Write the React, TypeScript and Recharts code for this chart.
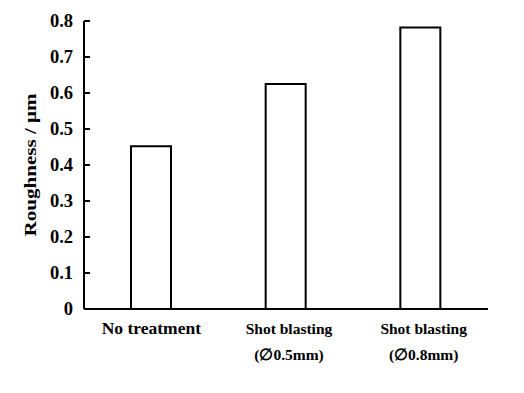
import { BarChart, Bar, XAxis, YAxis } from 'recharts';

const categories = ['No treatment', 'Shot blasting|(∅0.5mm)', 'Shot blasting|(∅0.8mm)'];
const roughness = [0.452, 0.625, 0.782];
const yTicks = [0, 0.1, 0.2, 0.3, 0.4, 0.5, 0.6, 0.7, 0.8];

const data = categories.map((c, i) => ({ name: c, value: roughness[i] }));

const FONT = 'Liberation Serif';
const textStyle = { fontFamily: FONT, fontWeight: 700 };

// inward tick marks, label to the left
const YTick = (props: any) => {
  const { x, y, payload } = props;
  const v = payload.value;
  return (
    <g>
      <line x1={x + 11} x2={x + 17} y1={y} y2={y} stroke="#000" strokeWidth={2} />
      <text x={x} y={y} dy={6} textAnchor="end" style={textStyle} fontSize={18.5} fill="#000">
        {v === 0 ? '0' : v.toFixed(1)}
      </text>
    </g>
  );
};

const XTick = (props: any) => {
  const { x, y, payload } = props;
  const lines = String(payload.value).split('|');
  const two = lines.length > 1;
  return (
    <g>
      {lines.map((l, i) => (
        <text
          key={i}
          x={x + (two ? 3 : 0)}
          y={y + 17 + i * 26}
          textAnchor="middle"
          style={textStyle}
          fontSize={two ? 15.5 : 17.5}
          fill="#000"
        >
          {l}
        </text>
      ))}
    </g>
  );
};

const YLabel = (props: any) => {
  const { viewBox } = props;
  const cx = viewBox.x + 30;
  const cy = viewBox.y + viewBox.height / 2;
  return (
    <text
      x={cx}
      y={cy}
      transform={`rotate(-90 ${cx} ${cy})`}
      textAnchor="middle"
      dominantBaseline="central"
      style={textStyle}
      fontSize={17}
      textLength={143}
      lengthAdjust="spacingAndGlyphs"
      fill="#000"
    >
      Roughness / μm
    </text>
  );
};

export default function App() {
  return (
    <div style={{ position: 'absolute', left: 0, top: 0, width: 524, height: 393, background: '#fff' }}>
      <BarChart width={524} height={393} data={data} margin={{ top: 21, right: 36, bottom: 0, left: 0 }}>
        <XAxis
          dataKey="name"
          axisLine={{ stroke: '#000', strokeWidth: 2 }}
          tickLine={false}
          tick={<XTick />}
          height={84}
          interval={0}
        />
        <YAxis
          domain={[0, 0.8]}
          ticks={yTicks}
          width={84}
          axisLine={{ stroke: '#000', strokeWidth: 2 }}
          tickLine={false}
          tickSize={0}
          tickMargin={11}
          tick={<YTick />}
          label={{ content: <YLabel /> }}
        />
        <Bar dataKey="value" fill="#fff" stroke="#000" strokeWidth={2} barSize={40} isAnimationActive={false} />
      </BarChart>
    </div>
  );
}
